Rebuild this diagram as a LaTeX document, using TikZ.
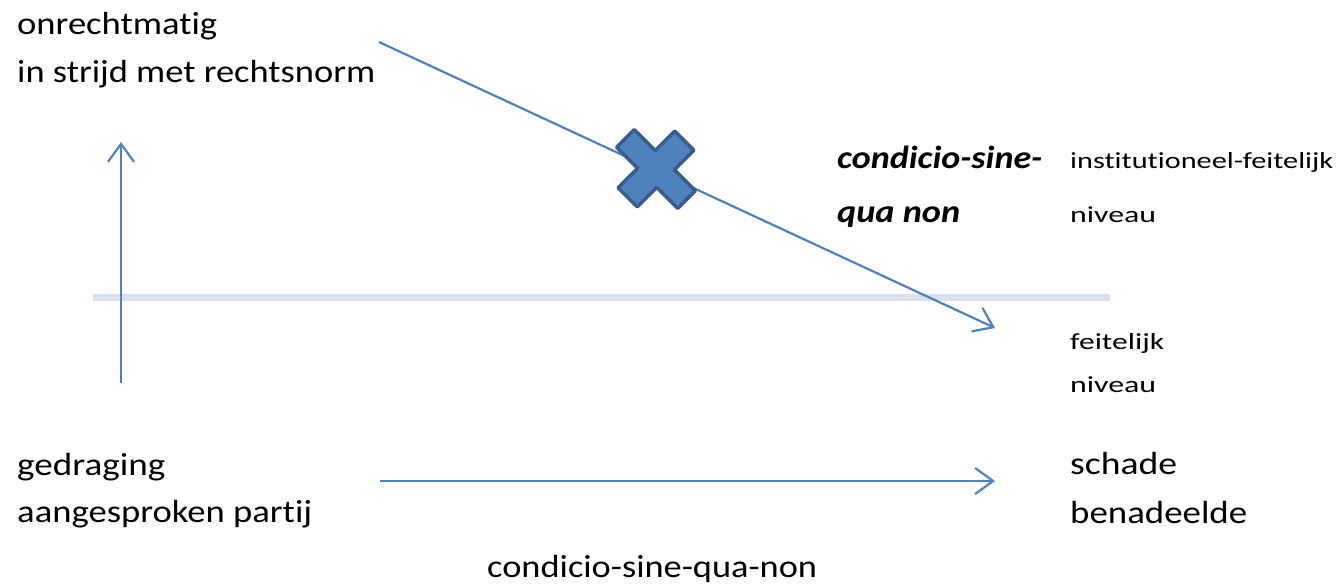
\documentclass[tikz,border=0pt]{standalone}
\usepackage{fontspec}
\setmainfont{Carlito}[Ligatures={NoCommon}]
\usetikzlibrary{arrows.meta}
\definecolor{arrblue}{HTML}{4F81BD}
\definecolor{xdark}{HTML}{385D8A}
\definecolor{pale}{HTML}{D9E1EE}
\newcommand{\fitw}[2]{\resizebox{#1pt}{\height}{#2}}
\tikzset{
  big/.style={anchor=base west, inner sep=0pt, font=\fontsize{32}{34}\selectfont},
  bigbi/.style={anchor=base west, inner sep=0pt, font=\fontsize{32}{34}\selectfont\bfseries\itshape},
  small/.style={anchor=base west, inner sep=0pt, font=\fontsize{23}{25}\selectfont},
  conn/.style={draw=arrblue, line width=2.2pt, -{Straight Barb[length=18pt,width=26pt,line width=2.2pt]}},
}
\begin{document}
\begin{tikzpicture}[x=1pt,y=-1pt]
\useasboundingbox (0,0) rectangle (1337,583);
% horizontal level line
\coordinate (lvlL) at (93,297);
\coordinate (lvlR) at (1110,297);
\draw[pale, line width=7pt] (lvlL) -- (lvlR);
% texts
\node[big] (onr) at (17,35) {\fitw{200}{onrechtmatig}};
\node[big] (strijd) at (17,83) {\fitw{358}{in strijd met rechtsnorm}};
\node[big] (ged) at (17,475) {\fitw{148}{gedraging}};
\node[big] (aang) at (17,522) {\fitw{295}{aangesproken partij}};
\node[big] (schade) at (1070,474) {\fitw{107}{schade}};
\node[big] (ben) at (1070,523) {\fitw{177}{benadeelde}};
\node[big] (csqn) at (487,577) {\fitw{330}{condicio-sine-qua-non}};
\node[bigbi] (cs1) at (837,168) {\fitw{205}{condicio-sine-}};
\node[bigbi] (cs2) at (837,222) {\fitw{123}{qua non}};
\node[small] (inst) at (1070,168) {\fitw{263}{institutioneel-feitelijk}};
\node[small] (niv1) at (1070,222) {\fitw{86}{niveau}};
\node[small] (feit) at (1070,349) {\fitw{94}{feitelijk}};
\node[small] (niv2) at (1070,392) {\fitw{86}{niveau}};
% arrows
\coordinate (vS) at (121,383);
\coordinate (vE) at (121,142);
\draw[conn] (vS) -- (vE);
\coordinate (dS) at (379,42);
\coordinate (dE) at (995,328);
\draw[conn] (dS) -- (dE);
\coordinate (hS) at (380,481);
\coordinate (hE) at (995,481);
\draw[conn] (hS) -- (hE);
% cross
\begin{scope}[shift={(656,169)}, rotate=45, yscale=1.08]
\draw[fill=arrblue, draw=xdark, line width=3.5pt, line join=round]
 (12.5,40) -- (12.5,12.5) -- (40,12.5) -- (40,-12.5) -- (12.5,-12.5) -- (12.5,-40) -- (-12.5,-40) -- (-12.5,-12.5) -- (-40,-12.5) -- (-40,12.5) -- (-12.5,12.5) -- (-12.5,40) -- cycle;
\end{scope}
\end{tikzpicture}
\end{document}
